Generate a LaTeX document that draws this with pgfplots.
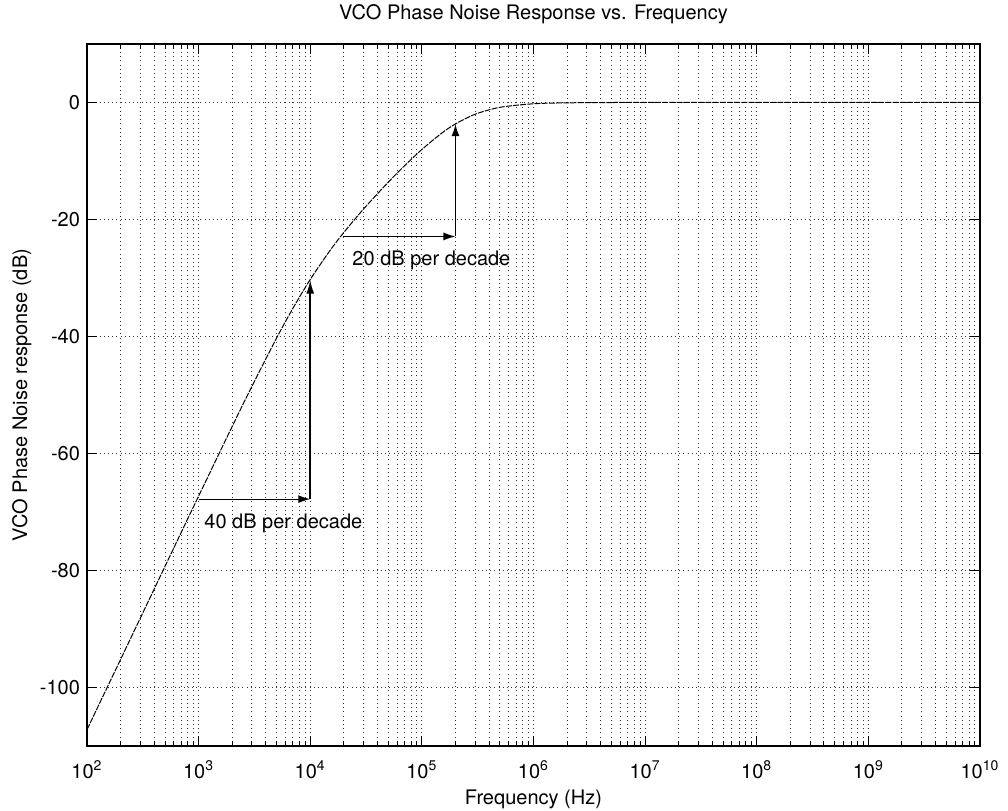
\documentclass[border=0pt]{standalone}
\usepackage{fontspec}
\setmainfont{TeX Gyre Heros}
\usepackage{pgfplots}
\pgfplotsset{compat=1.18}
\usetikzlibrary{arrows.meta}
\pgfplotstableread{
f db
1e2 -107.2
2e2 -95.20
5e2 -79.29
1e3 -67.28
2e3 -55.37
3e3 -48.53
5e3 -40.25
7e3 -35.17
1e4 -30.25
1.5e4 -25.33
2e4 -22.22
3e4 -18.22
5e4 -13.62
7e4 -10.81
1e5 -8.03
1.5e5 -5.27
2e5 -3.67
3e5 -2.01
5e5 -0.83
1e6 -0.22
2e6 -0.06
5e6 -0.01
1e7 0
1e10 0
}\resp
\begin{document}
\begin{tikzpicture}
\begin{semilogxaxis}[
  scale only axis,
  width=446.5pt, height=351pt,
  xmin=1e2, xmax=1e10, ymin=-110, ymax=10,
  xtick={1e2,1e3,1e4,1e5,1e6,1e7,1e8,1e9,1e10},
  xticklabels={10\textsuperscript{2},10\textsuperscript{3},10\textsuperscript{4},10\textsuperscript{5},10\textsuperscript{6},10\textsuperscript{7},10\textsuperscript{8},10\textsuperscript{9},10\textsuperscript{10}},
  minor xtick={2e2,3e2,4e2,5e2,6e2,7e2,8e2,9e2,2e3,3e3,4e3,5e3,6e3,7e3,8e3,9e3,2e4,3e4,4e4,5e4,6e4,7e4,8e4,9e4,2e5,3e5,4e5,5e5,6e5,7e5,8e5,9e5,2e6,3e6,4e6,5e6,6e6,7e6,8e6,9e6,2e7,3e7,4e7,5e7,6e7,7e7,8e7,9e7,2e8,3e8,4e8,5e8,6e8,7e8,8e8,9e8,2e9,3e9,4e9,5e9,6e9,7e9,8e9,9e9},
  ytick={-100,-80,-60,-40,-20,0},
  yticklabels={-100,-80,-60,-40,-20,0},
  tick label style={font=\fontsize{10}{12}\selectfont},
  xticklabel shift=4pt,
  grid=both,
  major grid style={black!80, line width=0.5pt, dash pattern=on 0.5pt off 1.6pt},
  minor grid style={black!80, line width=0.5pt, dash pattern=on 0.5pt off 1.6pt},
  tick align=inside,
  tick pos=both,
  major tick length=5pt,
  minor tick length=2.5pt,
  every tick/.style={black, line width=0.5pt},
  axis line style={line width=0.7pt},
]
\addplot[black, line width=0.5pt, dash pattern=on 3pt off 0.6pt, smooth] table[x=f, y=db] {\resp};
\draw[-{Latex[length=6pt,width=4pt]}, line width=0.6pt] (axis cs:1e3,-67.8) -- (axis cs:1e4,-67.8);
\draw[-{Latex[length=7pt,width=4pt]}, line width=0.9pt] (axis cs:1e4,-67.8) -- (axis cs:1e4,-30.3);
\draw[-{Latex[length=6pt,width=4pt]}, line width=0.6pt] (axis cs:1.95e4,-22.9) -- (axis cs:2e5,-22.9);
\draw[-{Latex[length=6pt,width=4pt]}, line width=0.6pt] (axis cs:2e5,-22.9) -- (axis cs:2e5,-3.7);
\node[anchor=west, inner sep=0pt, font=\fontsize{10}{12}\selectfont] at (axis cs:1.117e3,-72) {40 dB per decade};
\node[anchor=west, inner sep=0pt, font=\fontsize{10}{12}\selectfont] at (axis cs:2.37e4,-27) {20 dB per decade};
\end{semilogxaxis}
\node[anchor=base, inner sep=0pt, font=\fontsize{10}{12}\selectfont] at ([yshift=12.4pt]current axis.north) {VCO Phase Noise Response vs. Frequency};
\node[anchor=base, inner sep=0pt, font=\fontsize{10}{12}\selectfont] at ([yshift=-29.5pt]current axis.south) {Frequency (Hz)};
\node[anchor=base, rotate=90, inner sep=0pt, font=\fontsize{10}{12}\selectfont] at ([xshift=-29.9pt]current axis.west) {VCO Phase Noise response (dB)};
\pgfresetboundingbox
\path[use as bounding box] ([shift={(-43.5pt,-32.5pt)}]current axis.south west) rectangle ([shift={(14pt,22pt)}]current axis.north east);
\end{tikzpicture}
\end{document}
